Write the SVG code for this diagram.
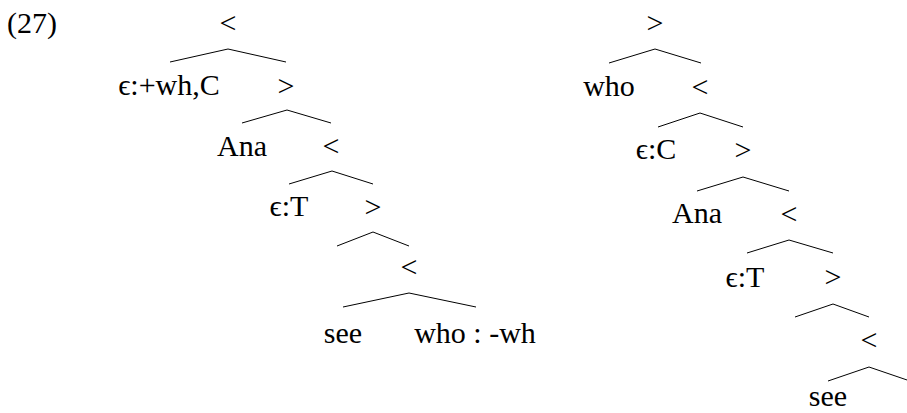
<svg xmlns="http://www.w3.org/2000/svg" width="907" height="413" viewBox="0 0 907 413">
<style>
text{font-family:"Liberation Serif","DejaVu Serif",serif;font-size:30px;fill:#000;text-anchor:middle}
.e{stroke:#000;stroke-width:1;fill:none}
</style>
<rect width="907" height="413" fill="#fff"/>
<text x="7" y="33" style="text-anchor:start">(27)</text>
<g id="connectors">
<polyline class="e" points="170,62 228,49 286,62"/>
<polyline class="e" points="242,123 287,110 331,123"/>
<polyline class="e" points="289,184 332,171 373,184"/>
<polyline class="e" points="337,246 373,232 409,246"/>
<polyline class="e" points="343,307 409,293 476,307"/>
<polyline class="e" points="609,63 655,49 701,63"/>
<polyline class="e" points="658,127 700,113 743,127"/>
<polyline class="e" points="697,191 743,177 789,191"/>
<polyline class="e" points="747,253 789,240 833,253"/>
<polyline class="e" points="795,317 833,304 869,317"/>
<polyline class="e" points="828,381 869,367 910,381"/>
</g>
<g id="t1n1"><text x="228" y="33">&lt;</text></g>
<g id="t1n2"><text x="169" y="95">ϵ:+wh,C</text></g>
<g id="t1n3"><text x="286" y="96">&gt;</text></g>
<g id="t1n4"><text x="242" y="156">Ana</text></g>
<g id="t1n5"><text x="331" y="156">&lt;</text></g>
<g id="t1n6"><text x="289" y="216">ϵ:T</text></g>
<g id="t1n7"><text x="373" y="217">&gt;</text></g>
<g id="t1n8"><text x="409" y="277">&lt;</text></g>
<g id="t1n9"><text x="343" y="343">see</text></g>
<g id="t1n10"><text x="475" y="343">who : -wh</text></g>
<g id="t2n1"><text x="655" y="33">&gt;</text></g>
<g id="t2n2"><text x="609" y="96">who</text></g>
<g id="t2n3"><text x="700" y="97">&lt;</text></g>
<g id="t2n4"><text x="656" y="159">ϵ:C</text></g>
<g id="t2n5"><text x="743" y="160">&gt;</text></g>
<g id="t2n6"><text x="697" y="223">Ana</text></g>
<g id="t2n7"><text x="789" y="224">&lt;</text></g>
<g id="t2n8"><text x="745" y="287">ϵ:T</text></g>
<g id="t2n9"><text x="833" y="287">&gt;</text></g>
<g id="t2n10"><text x="869" y="350">&lt;</text></g>
<g id="t2n11"><text x="828" y="406">see</text></g>
</svg>
